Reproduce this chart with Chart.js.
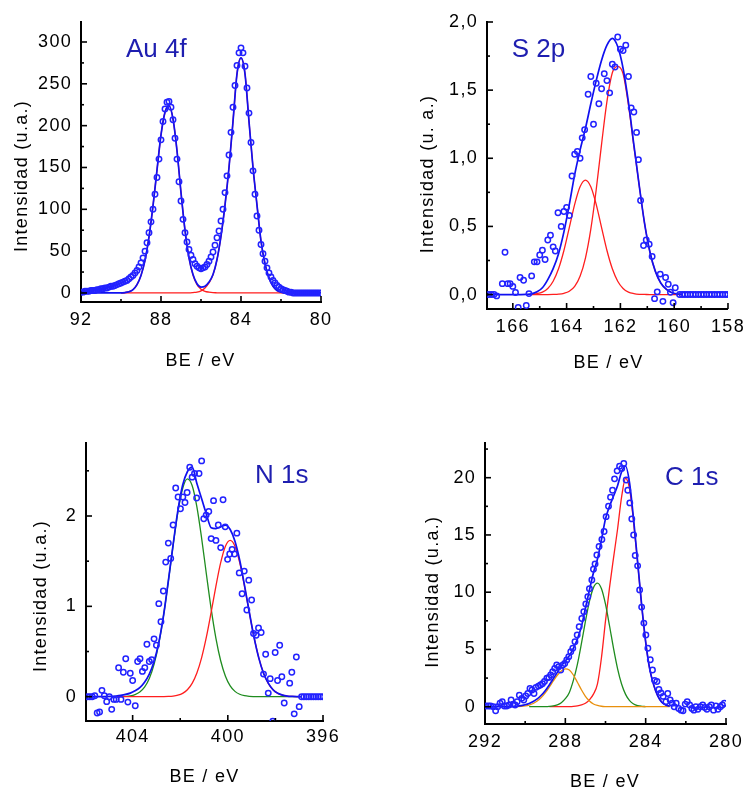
<!DOCTYPE html>
<html><head><meta charset="utf-8">
<script src="https://cdn.jsdelivr.net/npm/chart.js@4.4.1/dist/chart.umd.min.js"></script>
<style>
html,body{margin:0;padding:0;background:#fff;overflow:hidden;width:750px;height:789px;}
canvas{position:absolute;}
</style></head><body>
<canvas id="au" width="375" height="395" style="left:0;top:0"></canvas>
<canvas id="s2p" width="375" height="395" style="left:375px;top:0"></canvas>
<canvas id="n1s" width="375" height="394" style="left:0;top:395px"></canvas>
<canvas id="c1s" width="375" height="394" style="left:375px;top:395px"></canvas>
<script>
// ---------------- Au 4f ----------------
const auE = [92.0,91.9,91.8,91.7,91.6,91.5,91.4,91.3,91.2,91.1,91.0,90.9,90.8,90.7,90.6,90.5,90.4,90.3,90.2,90.1,
 90.0,89.9,89.8,89.7,89.6,89.5,89.4,89.3,89.2,89.1,89.0,88.9,88.8,88.7,88.6,88.5,88.4,88.3,88.2,88.1,
 88.0,87.9,87.8,87.7,87.6,87.5,87.4,87.3,87.2,87.1,87.0,86.9,86.8,86.7,86.6,86.5,86.4,86.3,86.2,86.1,
 86.0,85.9,85.8,85.7,85.6,85.5,85.4,85.3,85.2,85.1,85.0,84.9,84.8,84.7,84.6,84.5,84.4,84.3,84.2,84.1,
 84.0,83.9,83.8,83.7,83.6,83.5,83.4,83.3,83.2,83.1,83.0,82.9,82.8,82.7,82.6,82.5,82.4,82.3,82.2,82.1,
 82.0,81.9,81.8,81.7,81.6,81.5,81.4,81.3,81.2,81.1,81.0,80.9,80.8,80.7,80.6,80.5,80.4,80.3,80.2,80.1,80.0];
const auI = [1,1,2,2,2,3,3,3,4,4,5,5,6,6,7,8,8,9,10,11,
 12,13,14,15,17,19,21,24,27,31,36,42,50,60,72,85,100,118,138,160,
 183,205,220,228,229,222,207,185,160,133,110,88,72,61,52,45,40,35,32,30,
 29,30,31,34,38,43,49,57,66,74,86,100,120,140,165,192,222,248,272,287,
 293,287,271,245,215,180,146,118,92,75,58,47,38,30,24,19,15,12,9,7,
 5,4,3,2,1,1,0,0,0,0,0,0,0,0,0,0,0,0,0,0,0];
const auFitE = [92.0,90.0,89.8,89.6,89.4,89.2,89.0,88.8,88.6,88.4,88.2,88.0,87.8,87.6,87.4,87.2,87.0,86.8,86.6,86.4,86.2,
 86.0,85.8,85.6,85.4,85.2,85.0,84.8,84.6,84.4,84.2,84.0,83.8,83.6,83.4,83.2,83.0,82.8,82.6,82.4,82.2,82.0,81.8,80.0];
const auFitSum = [0,0,0.5,1.5,4,10,21,39,67,104,147,189,216,224,208,170,120,75,42,22,11,
 7,8,13,22,40,68,105,150,205,262,281,262,205,150,105,62,35,18,8,3,1,0,0];
const auPeak1 = [null,0,0.5,1.5,4,10,21,39,67,104,147,189,216,224,208,170,120,75,42,21.5,10,
 4.5,2,1,0.4,0.2,0,0,0,0,0,0,0,0,0,0,0,0,0,0,0,0,0,null];
const auPeak2 = [null,0,0,0,0,0,0,0,0,0,0,0,0,0,0,0,0,0,0.1,0.5,1,
 2.5,6,12,21.6,39.8,68,105,150,205,262,281,262,205,150,105,62,35,18,8,3,1,0,null];
const auXTicks = [92,88,84,80], auXMinor = [90,86,82];
const auYTicks = [0,50,100,150,200,250,300], auYMinor = [25,75,125,175,225,275];

// ---------------- S 2p ----------------
const sE = [166.9,166.8,166.7,166.6,166.39,166.29,166.19,166.1,166.0,165.9,165.8,165.73,165.6,165.5,165.4,165.3,165.2,165.1,165.0,164.9,
 164.8,164.7,164.6,164.5,164.42,164.32,164.2,164.1,164.0,163.9,163.8,163.7,163.6,163.5,163.42,163.33,163.2,163.1,163.0,162.9,
 162.8,162.7,162.6,162.5,162.4,162.3,162.2,162.1,162.0,161.9,161.8,161.7,161.6,161.5,161.4,161.33,161.25,161.14,161.04,160.93,
 160.82,160.73,160.63,160.52,160.42,160.32,160.22,160.14,160.04,159.96,159.8,159.7,159.6,159.5,159.4,159.3,159.2,159.1,159.0,158.9,
 158.8,158.7,158.6,158.5,158.4,158.3,158.2,158.1,158.0];
const sI = [0,0,0,-0.01,0.08,0.31,0.08,0.08,0.06,0.015,-0.095,0.125,0.105,-0.08,0.007,0.137,0.24,0.24,0.29,0.325,
 0.257,0.40,0.435,0.35,0.32,0.60,0.50,0.61,0.64,0.58,0.87,1.03,1.05,1.0,1.15,1.21,1.47,1.60,1.25,1.55,
 1.40,1.51,1.62,1.57,1.48,1.69,1.67,1.89,1.80,1.79,1.83,1.60,1.37,1.34,1.19,0.99,0.69,0.36,0.40,0.37,
 0.28,-0.03,0.02,0.15,-0.05,0.125,0.076,0.017,-0.06,0.05,0,0,0,0,0,0,0,0,0,0,
 0,0,0,0,0,0,0,0,0];
const sFitE = [166.95,166.1,165.9,165.7,165.5,165.3,165.1,164.9,164.7,164.5,164.3,164.1,163.9,163.7,163.5,163.3,163.1,
 162.9,162.7,162.5,162.3,162.1,161.9,161.7,161.5,161.3,161.1,160.9,160.7,160.5,160.3,160.1,159.9,159.7];
const sFitSum = [0,0,0,0,0.001,0.005,0.02,0.05,0.11,0.19,0.30,0.46,0.66,0.88,1.06,1.22,1.40,
 1.57,1.72,1.83,1.88,1.82,1.66,1.41,1.10,0.80,0.52,0.31,0.17,0.085,0.04,0.015,0.005,0.001];
const sPeak1 = [null,null,null,null,null,0,0,0,0,0.001,0.003,0.009,0.024,0.060,0.134,0.268,0.48,
 0.769,1.104,1.417,1.628,1.675,1.62,1.39,1.09,0.80,0.52,0.31,0.17,0.085,0.04,0.015,0.005,0.001];
const sPeak2 = [null,null,null,null,null,0.002,0.007,0.018,0.045,0.098,0.189,0.323,0.491,0.662,0.791,0.84,0.791,
 0.662,0.491,0.323,0.189,0.098,0.045,0.018,0.007,0.002,0.001,0,0,0,0,0,0,0];
const sXTicks = [166,164,162,160,158], sXMinor = [165,163,161,159];
const sYTicks = [0,0.5,1,1.5,2], sYLabels = ['0,0','0,5','1,0','1,5','2,0'], sYMinor = [0.25,0.75,1.25,1.75];

// ---------------- N 1s ----------------
const nE = [405.9,405.8,405.7,405.59,405.49,405.39,405.29,405.19,405.09,404.98,
 404.88,404.79,404.69,404.59,404.49,404.39,404.29,404.2,404.1,404.0,
 403.89,403.79,403.69,403.59,403.49,403.4,403.3,403.2,403.1,403.0,
 402.9,402.81,402.71,402.61,402.5,402.4,402.3,402.19,402.09,401.99,
 401.89,401.8,401.71,401.6,401.5,401.4,401.31,401.21,401.1,401.01,
 400.91,400.8,400.7,400.6,400.5,400.4,400.3,400.2,400.11,400.01,
 399.92,399.82,399.72,399.62,399.52,399.4,399.31,399.2,399.12,399.0,
 398.92,398.81,398.71,398.6,398.5,398.41,398.3,398.22,398.11,398.01,
 397.91,397.82,397.73,397.63,397.4,397.31,397.21,397.12,397.0,396.9,
 396.8,396.7,396.6,396.5,396.4,396.3,396.2,396.1,396.0];
const nI = [0,0,0,0.01,-0.18,-0.17,0.07,0.01,-0.055,0,
 -0.14,-0.03,-0.03,0.32,-0.03,0.27,0.42,-0.06,0.26,0.18,
 -0.10,0.39,0.42,0.28,0.32,0.58,0.39,0.41,0.64,0.57,
 1.03,0.83,1.17,1.49,1.70,1.53,1.90,2.31,2.21,2.08,
 2.21,2.15,2.26,2.54,2.43,2.47,2.20,2.47,2.61,1.97,
 2.01,2.05,1.75,2.17,1.73,1.90,1.65,2.18,1.88,1.52,
 1.58,1.63,1.58,1.81,1.37,1.14,1.39,0.96,1.29,1.07,
 0.70,0.68,0.76,0.71,0.25,0.47,0.04,0.20,-0.27,0.49,
 0.18,0.57,0.22,-0.07,0.15,0.27,-0.19,0.44,-0.11,0,
 0,0,0,0,0,0,0,0,0];
const nFitE = [405.96,404.9,404.7,404.5,404.3,404.1,403.9,403.7,403.5,403.3,403.1,402.9,402.7,402.5,402.3,402.1,401.9,
 401.7,401.5,401.3,401.1,400.9,400.7,400.5,400.3,400.1,399.9,399.7,399.5,399.3,399.1,398.9,398.7,398.5,398.3,398.1,
 397.9,397.7,397.5,397.3,397.1,396.9];
const nFitSum = [0,0.003,0.008,0.015,0.025,0.04,0.065,0.10,0.16,0.25,0.39,0.60,0.90,1.28,1.68,2.06,2.34,
 2.49,2.54,2.36,2.19,2.02,1.87,1.86,1.88,1.90,1.85,1.72,1.51,1.235,0.94,0.66,0.43,0.26,0.15,0.077,
 0.037,0.017,0.007,0.003,0.001,0];
const nPeakA = [null,0,0.0004,0.0013,0.0036,0.009,0.023,0.051,0.105,0.201,0.357,0.59,0.901,1.276,1.675,2.04,2.302,
 2.41,2.337,2.101,1.753,1.355,0.971,0.646,0.398,0.227,0.12,0.059,0.027,0.011,0.004,0.0015,0.0005,0,0,0,
 0,0,0,0,0,0];
const nPeakB = [null,0,0,0,0,0,0,0,0,0,0,0.0003,0.0009,0.0026,0.0068,0.0165,0.037,
 0.077,0.148,0.263,0.433,0.661,0.935,1.224,1.483,1.665,1.73,1.665,1.483,1.224,0.935,0.661,0.433,0.263,0.148,0.077,
 0.037,0.0165,0.0068,0.0026,0.0009,0.0003];
const nXTicks = [404,400,396], nXMinor = [402,398];
const nYTicks = [0,1,2], nYMinor = [0.5,1.5,2.5];

// ---------------- C 1s ----------------
const cE = [291.95,291.83,291.72,291.58,291.47,291.37,291.25,291.14,291.04,290.92,
 290.8,290.7,290.6,290.5,290.4,290.29,290.17,290.07,289.97,289.87,
 289.76,289.66,289.56,289.46,289.34,289.24,289.14,289.04,288.92,288.82,
 288.73,288.63,288.53,288.43,288.33,288.23,288.12,288.03,287.93,287.83,
 287.73,287.63,287.52,287.41,287.31,287.18,287.08,286.98,286.88,286.8,
 286.68,286.6,286.52,286.43,286.32,286.18,286.07,285.97,285.85,285.75,
 285.65,285.55,285.42,285.3,285.19,285.09,284.97,284.89,284.79,284.69,
 284.6,284.52,284.4,284.3,284.2,284.09,283.99,283.89,283.77,283.66,
 283.56,283.44,283.34,283.24,283.13,282.99,282.9,282.78,282.68,282.58,
 282.48,282.36,282.24,282.14,282.03,281.93,281.81,281.7,281.6,281.5,
 281.4,281.28,281.16,281.06,280.95,280.83,280.73,280.62,280.5,280.4,
 280.28,280.18,280.08];
const cI = [0.06,0.06,0.06,0,-0.35,0,0.3,0.44,0.06,0.06,
 0.15,0.58,0.23,0.15,0.44,1.0,0.73,0.58,0.93,1.16,
 1.6,1.46,1.16,1.69,1.8,1.9,2.0,2.2,2.5,2.56,
 2.77,3.06,3.35,3.64,3.5,3.2,3.64,3.78,4.08,4.37,
 4.8,5.1,5.68,6.26,6.99,7.7,8.3,8.97,9.6,10.3,
 11.06,12.0,12.46,13.25,14.0,14.6,15.3,16.6,17.5,18.3,
 18.9,19.9,20.6,21.0,20.8,21.25,19.8,18.9,17.8,16.4,
 15.0,13.2,12.3,10.2,8.7,7.3,6.26,5.1,4.1,3.2,
 2.3,2.2,1.5,1.2,0.9,0.44,1.16,0.58,0.3,0,
 0.3,-0.15,-0.3,-0.35,0.23,0.44,0.15,-0.15,-0.3,0,
 -0.23,0,0.15,-0.06,-0.23,0,0.15,-0.3,0.06,-0.23,
 0,0.15,0.3];
const cFitE = [292.0,291.0,290.6,290.4,290.2,290.0,289.8,289.6,289.4,289.2,289.0,288.8,288.6,288.4,288.2,288.0,
 287.8,287.6,287.4,287.2,287.0,286.8,286.6,286.4,286.2,286.0,285.8,285.6,285.4,285.2,285.0,
 284.8,284.6,284.4,284.2,284.0,283.8,283.6,283.4,283.2,283.0,282.8];
const cFitSum = [0,0,0.02,0.05,0.1,0.17,0.28,0.45,0.68,1.0,1.4,1.9,2.45,3.0,3.55,4.0,
 4.46,5.1,5.9,7.0,8.6,10.2,11.7,12.9,14.6,16.4,17.5,18.4,19.3,20.5,21.0,
 19.53,16.34,12.65,8.89,5.67,3.3,1.9,0.95,0.4,0.15,0.05];
const cPeakA = [null,null,null,null,null,null,null,null,null,null,null,0,0,0,0,0.003,
 0.01,0.03,0.07,0.15,0.3,0.6,1.1,2.0,4.3,7.5,10.4,13.0,15.5,18.3,19.95,
 19.0,16.1,12.55,8.85,5.66,3.3,1.9,0.95,0.4,0.15,0.05];
const cPeakB = [null,null,null,null,null,null,0,0,0.001,0.004,0.01,0.03,0.07,0.16,0.35,0.7,
 1.25,2.3,3.7,5.5,7.45,9.2,10.4,10.8,10.3,8.95,7.07,5.09,3.33,1.98,1.08,
 0.53,0.24,0.098,0.037,0.012,null,null,null,null,null,null];
const cPeakC = [null,null,0.005,0.014,0.033,0.072,0.147,0.28,0.49,0.80,1.21,1.71,2.25,2.75,3.12,3.3,
 3.2,2.77,2.14,1.48,0.91,0.50,0.24,0.107,0.04,0.014,0.004,0.001,0,0,0,
 0,0,0,0,0,0,0,0,0,0,0];
const cXTicks = [292,288,284,280], cXMinor = [290,286,282];
const cYTicks = [0,5,10,15,20], cYMinor = [2.5,7.5,12.5,17.5,22.5];

// ---------------- drawing ----------------
const FONT = '"Liberation Sans", Arial, Helvetica, sans-serif';
const COL_PTS = '#2222ff', COL_SUM = '#1010f0', COL_RED = '#ff1e1e', COL_GREEN = '#1f8c1f', COL_ORANGE = '#e8900e';
const COL_LABEL = '#1e1eb0';
Chart.defaults.font.family = FONT;

function toXY(xs, ys) { return xs.map((x, i) => ({x: x, y: ys[i]})); }

function decorPlugin(cfg) {
  return {
    id: 'decor',
    beforeDraw(chart) { chart.ctx.letterSpacing = '1.3px'; },
    afterDraw(chart) {
      const ctx = chart.ctx, xs = chart.scales.x, ys = chart.scales.y, a = chart.chartArea;
      ctx.save();
      ctx.strokeStyle = '#000';
      ctx.lineWidth = 1.6;
      const mark = (isX, v, len) => {
        ctx.beginPath();
        if (isX) { const p = xs.getPixelForValue(v); ctx.moveTo(p, a.bottom); ctx.lineTo(p, a.bottom - len); }
        else { const p = ys.getPixelForValue(v); ctx.moveTo(a.left, p); ctx.lineTo(a.left + len, p); }
        ctx.stroke();
      };
      cfg.xTicks.forEach(v => mark(true, v, 6));
      cfg.xMinor.forEach(v => mark(true, v, 3));
      cfg.yTicks.forEach(v => mark(false, v, 6));
      cfg.yMinor.forEach(v => { if (v <= ys.max) mark(false, v, 3); });

      ctx.fillStyle = '#000';
      ctx.font = '18px ' + FONT;
      ctx.letterSpacing = '1.3px';
      ctx.textAlign = 'center';
      ctx.textBaseline = 'alphabetic';
      ctx.fillText(cfg.xTitle, cfg.xtX, cfg.xtY);
      ctx.save();
      ctx.translate(cfg.ytX, cfg.ytY);
      ctx.rotate(-Math.PI / 2);
      ctx.fillText(cfg.yTitle, 0, 0);
      ctx.restore();

      ctx.letterSpacing = '0px';
      ctx.font = '26px ' + FONT;
      ctx.fillStyle = COL_LABEL;
      ctx.textAlign = 'left';
      ctx.fillText(cfg.label, cfg.lX, cfg.lY);
      ctx.restore();
    }
  };
}

function makePanel(id, cfg) {
  const datasets = [{
    data: toXY(cfg.dataE, cfg.dataI), showLine: false, pointStyle: 'circle',
    pointRadius: 2.7, pointBorderWidth: 1.5, pointBorderColor: COL_PTS,
    pointBackgroundColor: 'rgba(0,0,0,0)', order: 0
  }];
  cfg.fits.forEach(f => datasets.push({
    data: toXY(cfg.fitE, f.y), showLine: true, pointRadius: 0, borderColor: f.color,
    borderWidth: f.order === 1 ? 1.7 : 1.3, cubicInterpolationMode: 'monotone', fill: false, order: f.order
  }));
  const tickFont = {family: FONT, size: 18};
  new Chart(document.getElementById(id), {
    type: 'scatter',
    data: {datasets},
    options: {
      responsive: false, animation: false, devicePixelRatio: 1,
      events: [],
      layout: {autoPadding: false, padding: {left: 0, right: cfg.padR, top: cfg.padT, bottom: 0}},
      plugins: {legend: {display: false}, tooltip: {enabled: false}},
      scales: {
        x: {
          type: 'linear', reverse: true, min: cfg.xMin, max: cfg.xMax,
          grid: {display: false, drawTicks: false},
          border: {display: true, color: '#000', width: 2},
          ticks: {font: tickFont, color: '#000', padding: cfg.xPad, autoSkip: false, maxRotation: 0,
                  callback: (v, i) => String(cfg.xTicks[i])},
          afterBuildTicks: ax => { ax.ticks = cfg.xTicks.map(v => ({value: v})); },
          afterFit: ax => { ax.height = cfg.xH; }
        },
        y: {
          type: 'linear', min: cfg.yMin, max: cfg.yMax,
          grid: {display: false, drawTicks: false},
          border: {display: true, color: '#000', width: 2},
          ticks: {font: tickFont, color: '#000', padding: 9, autoSkip: false,
                  callback: (v, i) => cfg.yLabels ? cfg.yLabels[i] : String(cfg.yTicks[i])},
          afterBuildTicks: ax => { ax.ticks = cfg.yTicks.map(v => ({value: v})); },
          afterFit: ax => { ax.width = cfg.yW; }
        }
      }
    },
    plugins: [decorPlugin(cfg)]
  });
}

makePanel('au', {
  dataE: auE, dataI: auI, fitE: auFitE,
  fits: [{y: auFitSum, color: COL_SUM, order: 1}, {y: auPeak1, color: COL_RED, order: 2}, {y: auPeak2, color: COL_RED, order: 2}],
  xMin: 80, xMax: 92, yMin: -10.8, yMax: 323.9,
  xTicks: auXTicks, xMinor: auXMinor, yTicks: auYTicks, yMinor: auYMinor,
  yW: 81, padR: 54, padT: 22, xH: 93, xPad: 7,
  label: 'Au 4f', lX: 126, lY: 56.7,
  xTitle: 'BE / eV', xtX: 200.5, xtY: 365.7,
  yTitle: 'Intensidad (u.a.)', ytX: 26.7, ytY: 176
});
makePanel('s2p', {
  dataE: sE, dataI: sI, fitE: sFitE,
  fits: [{y: sFitSum, color: COL_SUM, order: 1}, {y: sPeak1, color: COL_RED, order: 2}, {y: sPeak2, color: COL_RED, order: 2}],
  xMin: 158, xMax: 166.96, yMin: -0.106, yMax: 2.0,
  xTicks: sXTicks, xMinor: sXMinor, yTicks: sYTicks, yLabels: sYLabels, yMinor: sYMinor,
  yW: 112, padR: 18, padT: 22, xH: 86, xPad: 7,
  label: 'S 2p', lX: 136.7, lY: 57.3,
  xTitle: 'BE / eV', xtX: 233.5, xtY: 368.3,
  yTitle: 'Intensidad (u. a.)', ytX: 58.3, ytY: 174
});
makePanel('n1s', {
  dataE: nE, dataI: nI, fitE: nFitE,
  fits: [{y: nFitSum, color: COL_SUM, order: 1}, {y: nPeakB, color: COL_RED, order: 2}, {y: nPeakA, color: COL_GREEN, order: 3}],
  xMin: 396, xMax: 405.96, yMin: -0.269, yMax: 2.808,
  xTicks: nXTicks, xMinor: nXMinor, yTicks: nYTicks, yMinor: nYMinor,
  yW: 86, padR: 52, padT: 48, xH: 68, xPad: 5,
  label: 'N 1s', lX: 255, lY: 88.3,
  xTitle: 'BE / eV', xtX: 204.5, xtY: 386.7,
  yTitle: 'Intensidad (u.a.)', ytX: 45.7, ytY: 201
});
makePanel('c1s', {
  dataE: cE, dataI: cI, fitE: cFitE,
  fits: [{y: cFitSum, color: COL_SUM, order: 1}, {y: cPeakC, color: COL_ORANGE, order: 2}, {y: cPeakB, color: COL_GREEN, order: 3}, {y: cPeakA, color: COL_RED, order: 4}],
  xMin: 280, xMax: 292, yMin: -1.51, yMax: 23.03,
  xTicks: cXTicks, xMinor: cXMinor, yTicks: cYTicks, yMinor: cYMinor,
  yW: 110, padR: 24, padT: 48, xH: 65, xPad: 7,
  label: 'C 1s', lX: 290, lY: 90,
  xTitle: 'BE / eV', xtX: 230, xtY: 391.7,
  yTitle: 'Intensidad (u.a.)', ytX: 63.3, ytY: 196.7
});
</script>
</body></html>
